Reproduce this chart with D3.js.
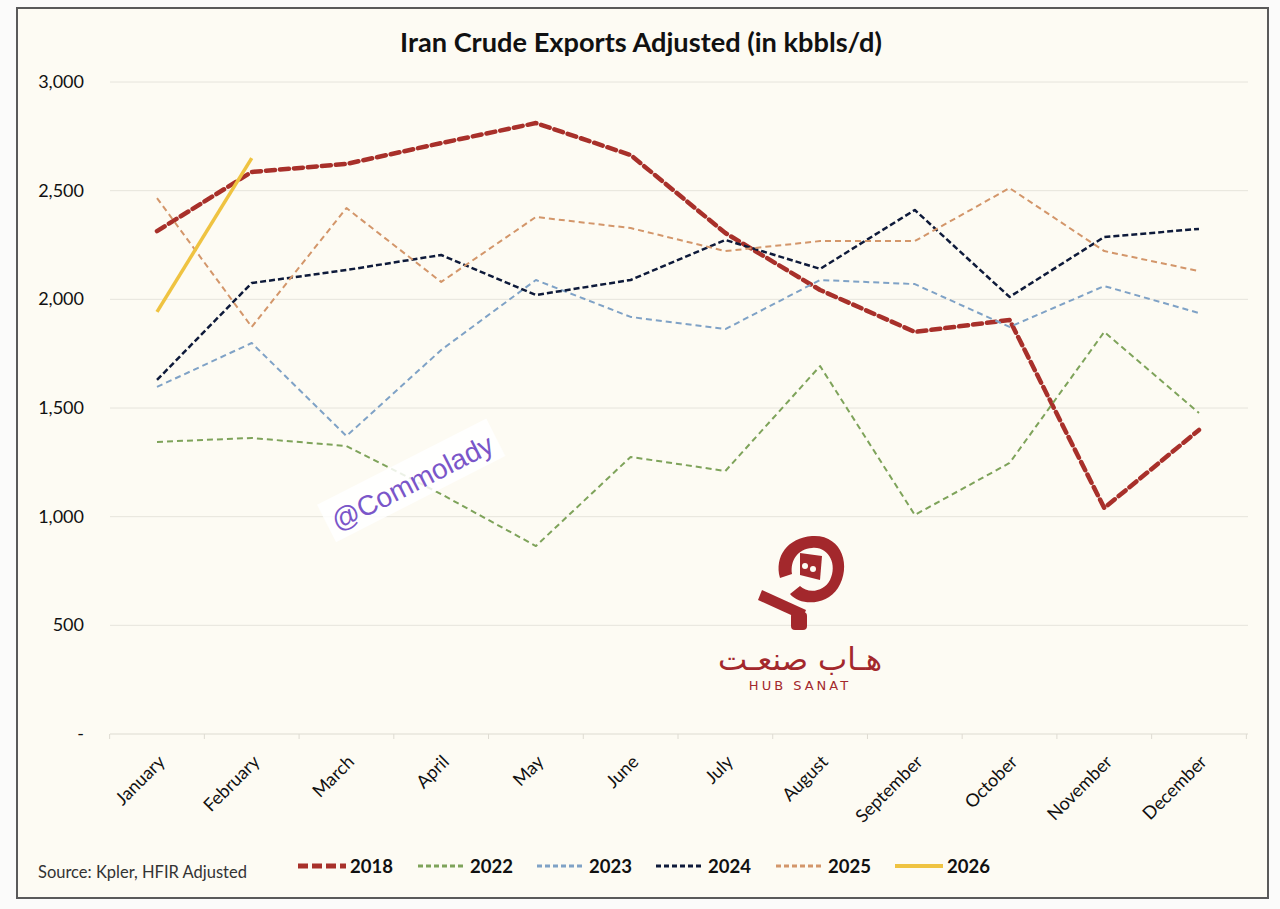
<!DOCTYPE html>
<meta charset="utf-8">
<style>
	body { margin: 0; background: #fbfbfa; }
	text { font-family: Lato, "Open Sans", sans-serif; }
	.grid line { stroke: #e6e4dc; stroke-width: 1px; }
	.axis text { font-size: 18px; fill: #111; }
	.series { fill: none; }
</style>
<head>
	<script src="https://d3js.org/d3.v7.min.js"></script>
</head>
<body>
	<svg width="1280" height="909"></svg>
</body>
<script>
var months = ["January","February","March","April","May","June","July","August","September","October","November","December"];
var yTicks = [0, 500, 1000, 1500, 2000, 2500, 3000];

var y2018 = [2314, 2586, 2623, 2719, 2811, 2664, 2305, 2043, 1850, 1905, 1040, 1399];
var y2022 = [1344, 1362, 1325, 1104, 865, 1275, 1210, 1693, 1008, 1247, 1850, 1477];
var y2023 = [1597, 1799, 1371, 1767, 2089, 1919, 1863, 2089, 2070, 1873, 2061, 1937];
var y2024 = [1629, 2075, 2135, 2204, 2020, 2089, 2273, 2140, 2411, 2011, 2287, 2324];
var y2025 = [2466, 1873, 2420, 2080, 2379, 2328, 2222, 2268, 2268, 2512, 2222, 2130];
var y2026 = [1942, 2650];

var series = [
	{name: "2018", values: y2018, color: "#a8302a", width: 4.5, dash: "9,5"},
	{name: "2022", values: y2022, color: "#7ea35a", width: 2, dash: "6,4"},
	{name: "2023", values: y2023, color: "#7fa2c6", width: 2, dash: "6,4"},
	{name: "2024", values: y2024, color: "#0e1a3a", width: 2.5, dash: "6,3"},
	{name: "2025", values: y2025, color: "#d3966a", width: 2, dash: "6,4"},
	{name: "2026", values: y2026, color: "#efc341", width: 3.5, dash: null}
];

var svg = d3.select("svg");

// card frame
svg.append("rect").attr("x", 17).attr("y", 8).attr("width", 1251).attr("height", 890)
	.attr("fill", "#fdfbf3").attr("stroke", "#5a5a5a").attr("stroke-width", 2);

var x = d3.scalePoint().domain(months).range([157, 1199]);
var y = d3.scaleLinear().domain([0, 3000]).range([734, 82]);

// gridlines
svg.append("g").attr("class", "grid")
	.selectAll("line").data(yTicks.slice(1)).enter().append("line")
	.attr("x1", 110).attr("x2", 1248)
	.attr("y1", function(d) { return y(d); }).attr("y2", function(d) { return y(d); });

// x axis baseline + ticks
svg.append("line").attr("x1", 110).attr("x2", 1248).attr("y1", y(0)).attr("y2", y(0))
	.attr("stroke", "#dedbd2").attr("stroke-width", 1.2);
var step = x.step();
svg.append("g").selectAll("line").data(d3.range(13)).enter().append("line")
	.attr("x1", function(i) { return 157 - step / 2 + i * step; })
	.attr("x2", function(i) { return 157 - step / 2 + i * step; })
	.attr("y1", y(0)).attr("y2", y(0) + 5)
	.attr("stroke", "#dedbd2");

// y labels
svg.append("g").attr("class", "axis")
	.selectAll("text").data(yTicks).enter().append("text")
	.attr("x", 84).attr("y", function(d) { return y(d) + 6; })
	.attr("text-anchor", "end")
	.text(function(d) { return d === 0 ? "-" : d3.format(",")(d); });

// x labels
svg.append("g").attr("class", "axis")
	.selectAll("text").data(months).enter().append("text")
	.attr("transform", function(d) { return "translate(" + (x(d) + 9) + "," + 763 + ") rotate(-45)"; })
	.attr("text-anchor", "end")
	.text(function(d) { return d; });

// title
var title = svg.append("text").attr("x", 641).attr("y", 52).attr("text-anchor", "middle")
	.style("font-size", "22px").style("font-weight", "bold").attr("fill", "#111")
	.text("Iran Crude Exports Adjusted (in kbbls/d)");
var tl = title.node().getComputedTextLength();
title.style("font-size", (22 * 482 / tl).toFixed(1) + "px");

// watermark logo
var logo = svg.append("g").attr("fill", "#a3282c");
logo.append("path")
	.attr("d", "M812,536 C842,534 852,566 838,588 C826,606 800,606 790,594 L800,586 C808,594 824,592 830,580 C838,564 828,546 812,548 C798,549 790,560 792,574 L780,578 C774,556 788,538 812,536 Z");
logo.append("path").attr("d", "M800,553 L822,556 L820,580 L800,575 Z");
logo.append("circle").attr("cx", 805).attr("cy", 566).attr("r", 3).attr("fill", "#fdfbf3");
logo.append("circle").attr("cx", 813).attr("cy", 569).attr("r", 3).attr("fill", "#fdfbf3");
logo.append("path").attr("d", "M762,590 L806,610 L802,620 L758,600 Z");
logo.append("rect").attr("x", 791).attr("y", 612).attr("width", 16).attr("height", 18).attr("rx", 4);
svg.append("text").attr("x", 800).attr("y", 670).attr("text-anchor", "middle")
	.style("font-family", "'DejaVu Sans', sans-serif").style("font-size", "31px").attr("fill", "#a3282c")
	.text("هـاب صنعـت");
svg.append("text").attr("x", 800).attr("y", 690).attr("text-anchor", "middle")
	.style("font-family", "'DejaVu Sans', sans-serif").style("font-size", "13px").style("letter-spacing", "3px").attr("fill", "#a3282c")
	.text("HUB SANAT");

// series lines
var line = d3.line()
	.x(function(d, i) { return x(months[i]); })
	.y(function(d) { return y(d); });

svg.append("g").selectAll("path").data(series).enter().append("path")
	.attr("class", "series")
	.attr("d", function(s) { return line(s.values); })
	.attr("stroke", function(s) { return s.color; })
	.attr("stroke-width", function(s) { return s.width; })
	.attr("stroke-dasharray", function(s) { return s.dash; })
	.attr("stroke-linejoin", "round")
	.attr("stroke-linecap", function(s) { return s.name === "2018" ? "round" : "butt"; });

// @Commolady watermark
var wm = svg.append("g").attr("transform", "translate(413,484) rotate(-27)");
wm.append("rect").attr("x", -95).attr("y", -25).attr("width", 190).attr("height", 42)
	.attr("fill", "#ffffff").attr("opacity", 0.85);
wm.append("text").attr("text-anchor", "middle").attr("y", 8)
	.style("font-family", "'Liberation Sans', Arial, sans-serif").style("font-size", "28px")
	.attr("fill", "#7a56c9").text("@Commolady");

// footer: source + legend
svg.append("text").attr("x", 38).attr("y", 878)
	.style("font-size", "16.5px").attr("fill", "#333")
	.text("Source: Kpler, HFIR Adjusted");

var legX = [298, 418, 537, 656, 776, 895];
var leg = svg.append("g").selectAll("g").data(series).enter().append("g")
	.attr("transform", function(s, i) { return "translate(" + legX[i] + ",866)"; });
leg.append("line").attr("x1", 0).attr("x2", 48).attr("y1", 0).attr("y2", 0)
	.attr("stroke", function(s) { return s.color; })
	.attr("stroke-width", function(s) { return s.name === "2018" ? 5 : (s.name === "2026" ? 4 : 3); })
	.attr("stroke-dasharray", function(s) { return s.name === "2018" ? "10,4" : s.dash ? "5,3" : null; });
leg.append("text").attr("x", 52).attr("y", 7)
	.style("font-size", "18.5px").style("font-weight", "bold").attr("fill", "#111")
	.text(function(s) { return s.name; });
</script>
